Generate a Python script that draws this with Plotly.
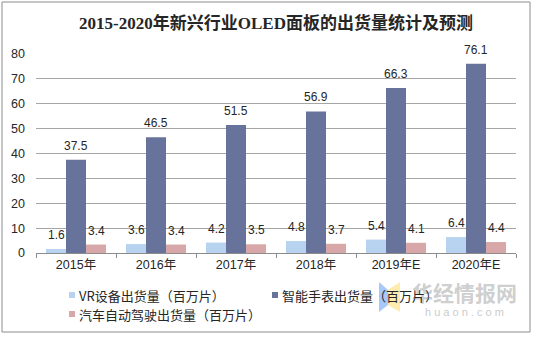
import plotly.graph_objects as go

categories = ["2015年", "2016年", "2017年", "2018年", "2019年E", "2020年E"]
series_names = ["VR设备出货量（百万片）", "智能手表出货量（百万片）", "汽车自动驾驶出货量（百万片）"]
vr_values = [1.6, 3.6, 4.2, 4.8, 5.4, 6.4]
watch_values = [37.5, 46.5, 51.5, 56.9, 66.3, 76.1]
auto_values = [3.4, 3.4, 3.5, 3.7, 4.1, 4.4]
colors = ["#B8D3F0", "#67739B", "#D8A7A7"]
title_text = "2015-2020年新兴行业OLED面板的出货量统计及预测"

W, H = 534, 338
L, R, T, B = 36, 516, 54, 253  # plot area in px


def px(x):
    return (x - L) / (R - L)


def py(y):
    return (B - y) / (B - T)


fig = go.Figure()
all_values = [vr_values, watch_values, auto_values]
for name, vals, col in zip(series_names, all_values, colors):
    fig.add_trace(go.Bar(x=categories, y=vals, name=name, marker=dict(color=col, line=dict(width=0)),
                         showlegend=False))

annotations = []
offsets = [-0.25, 0.0, 0.25]
for vals, off in zip(all_values, offsets):
    for i, v in enumerate(vals):
        annotations.append(dict(x=i + off, y=v, xref="x", yref="y", text=f"{v}", showarrow=False,
                                xanchor="center", yanchor="middle", yshift=14,
                                font=dict(family="Liberation Sans, Arial", size=12, color="#262626")))

# watermark
shapes = []
shapes.append(dict(type="path", xref="paper", yref="paper", layer="below",
                   path=f"M{px(379)},{py(282)} L{px(388)},{py(290)} L{px(388)},{py(305)} L{px(379)},{py(312)} Z",
                   fillcolor="rgba(120,170,245,0.65)", line=dict(width=0)))
shapes.append(dict(type="path", xref="paper", yref="paper", layer="below",
                   path=f"M{px(388)},{py(290)} L{px(400)},{py(282)} L{px(400)},{py(312)} L{px(388)},{py(305)} Z",
                   fillcolor="rgba(252,228,140,0.7)", line=dict(width=0)))
annotations.append(dict(x=px(464), y=py(292), xref="paper", yref="paper", text="<b>华经情报网</b>",
                        showarrow=False, xanchor="center", yanchor="middle",
                        font=dict(family="Noto Sans CJK SC", size=21, color="rgba(165,165,165,0.55)")))
annotations.append(dict(x=px(464), y=py(312), xref="paper", yref="paper", text="h u a o n . c o m",
                        showarrow=False, xanchor="center", yanchor="middle",
                        font=dict(family="Liberation Sans", size=11, color="rgba(165,165,165,0.6)")))

# legend (manual)
legend_pos = [(69, 295), (272, 295), (69, 314)]
for (lx, ly), name, col in zip(legend_pos, series_names, colors):
    shapes.append(dict(type="rect", xref="paper", yref="paper", x0=px(lx), x1=px(lx + 6),
                       y0=py(ly + 3), y1=py(ly - 3), fillcolor=col, line=dict(width=0)))
    annotations.append(dict(x=px(lx + 8), y=py(ly), xref="paper", yref="paper", text=name,
                            showarrow=False, xanchor="left", yanchor="middle",
                            font=dict(family="Noto Sans CJK SC", size=13, color="#262626")))

# outer border
shapes.append(dict(type="rect", xref="paper", yref="paper", x0=px(2), x1=px(530), y0=py(2), y1=py(332),
                   line=dict(color="#8C8C8C", width=1), fillcolor="rgba(0,0,0,0)"))

fig.update_layout(
    width=W, height=H,
    margin=dict(l=L, r=W - R, t=T, b=H - B, pad=0),
    paper_bgcolor="white", plot_bgcolor="white",
    barmode="group", bargap=0.25, bargroupgap=0,
    title=dict(text=f"<b>{title_text}</b>", x=0.5, xref="paper", xanchor="center", y=1 - 23 / H, yanchor="middle",
               font=dict(family="Liberation Serif, Noto Sans CJK SC", size=17, color="#262626")),
    xaxis=dict(type="category", tickson="boundaries", ticks="outside", ticklen=4, tickcolor="#8C8C8C",
               showline=True, linecolor="#8C8C8C", linewidth=1, showgrid=False,
               tickfont=dict(family="Liberation Sans, Noto Sans CJK SC", size=12.5, color="#262626")),
    yaxis=dict(range=[0, 80], dtick=10, showgrid=True, gridcolor="#A6A6A6", gridwidth=1, zeroline=False,
               showline=False, ticks="", ticklabelstandoff=10,
               tickfont=dict(family="Liberation Sans", size=12.5, color="#262626")),
    annotations=annotations, shapes=shapes,
)

fig.write_html("out.html")
